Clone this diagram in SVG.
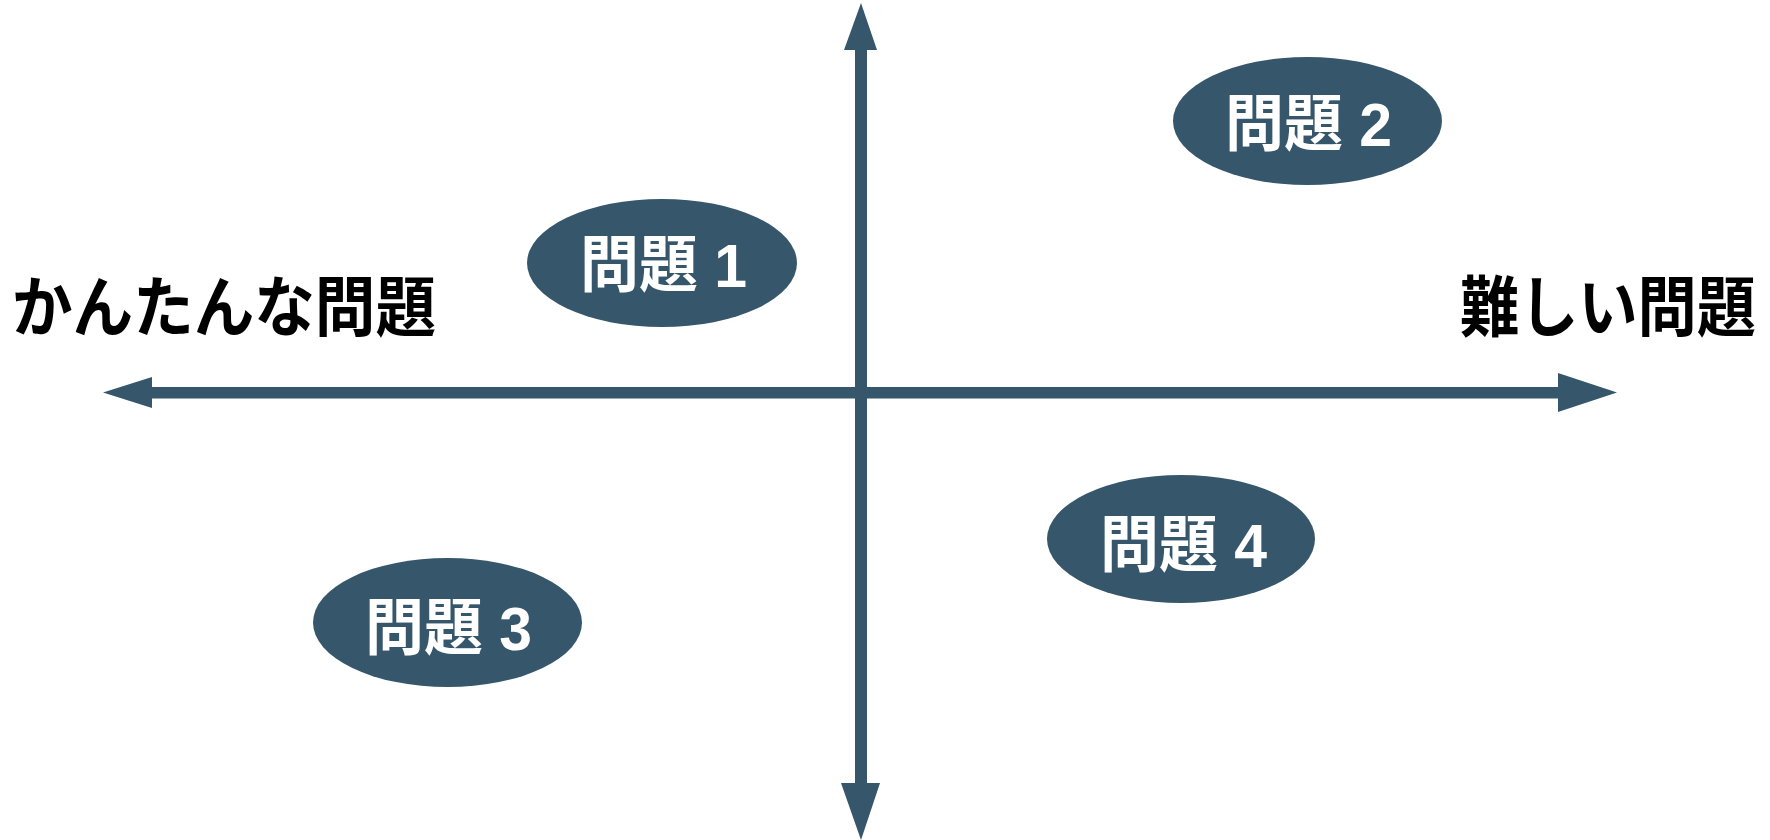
<svg xmlns="http://www.w3.org/2000/svg" width="1770" height="840" viewBox="0 0 1770 840">
<style>
.ax{fill:#36566b}
.node ellipse{fill:#36566b}
.nt{font-family:"Liberation Sans","Noto Sans CJK JP",sans-serif;font-weight:bold;font-size:62px;fill:#ffffff}
.lb{font-family:"Noto Sans CJK JP",sans-serif;font-weight:bold;font-size:66px;fill:#000000}
</style>
<rect width="1770" height="840" fill="#ffffff"/>
<g id="connectors">
<rect class="ax" x="150" y="387" width="1410" height="11.5"/>
<polygon class="ax" points="103,392.5 152,377 152,408"/>
<polygon class="ax" points="1617,392.5 1558,373 1558,412"/>
<rect class="ax" x="855" y="48" width="12" height="737"/>
<polygon class="ax" points="861,3 877,50 844,50"/>
<polygon class="ax" points="861,840 880,783 841,783"/>
</g>
<g id="label-easy"><text class="lb" x="12" y="331" textLength="424" lengthAdjust="spacingAndGlyphs">かんたんな問題</text></g>
<g id="label-hard"><text class="lb" style="font-size:61px" transform="translate(1460,331) scale(1,1.08)" x="0" y="0" textLength="296" lengthAdjust="spacingAndGlyphs">難しい問題</text></g>
<g id="node1" class="node"><ellipse cx="662" cy="263" rx="135" ry="64"/><text class="nt" x="580" y="287" textLength="167" lengthAdjust="spacingAndGlyphs">問題 1</text></g>
<g id="node2" class="node"><ellipse cx="1307.5" cy="121" rx="134.5" ry="64"/><text class="nt" x="1225" y="146" textLength="167" lengthAdjust="spacingAndGlyphs">問題 2</text></g>
<g id="node3" class="node"><ellipse cx="447.5" cy="622.5" rx="134.5" ry="64.5"/><text class="nt" x="365" y="650" textLength="167" lengthAdjust="spacingAndGlyphs">問題 3</text></g>
<g id="node4" class="node"><ellipse cx="1181" cy="539" rx="134" ry="64"/><text class="nt" x="1100" y="567" textLength="167" lengthAdjust="spacingAndGlyphs">問題 4</text></g>
</svg>
